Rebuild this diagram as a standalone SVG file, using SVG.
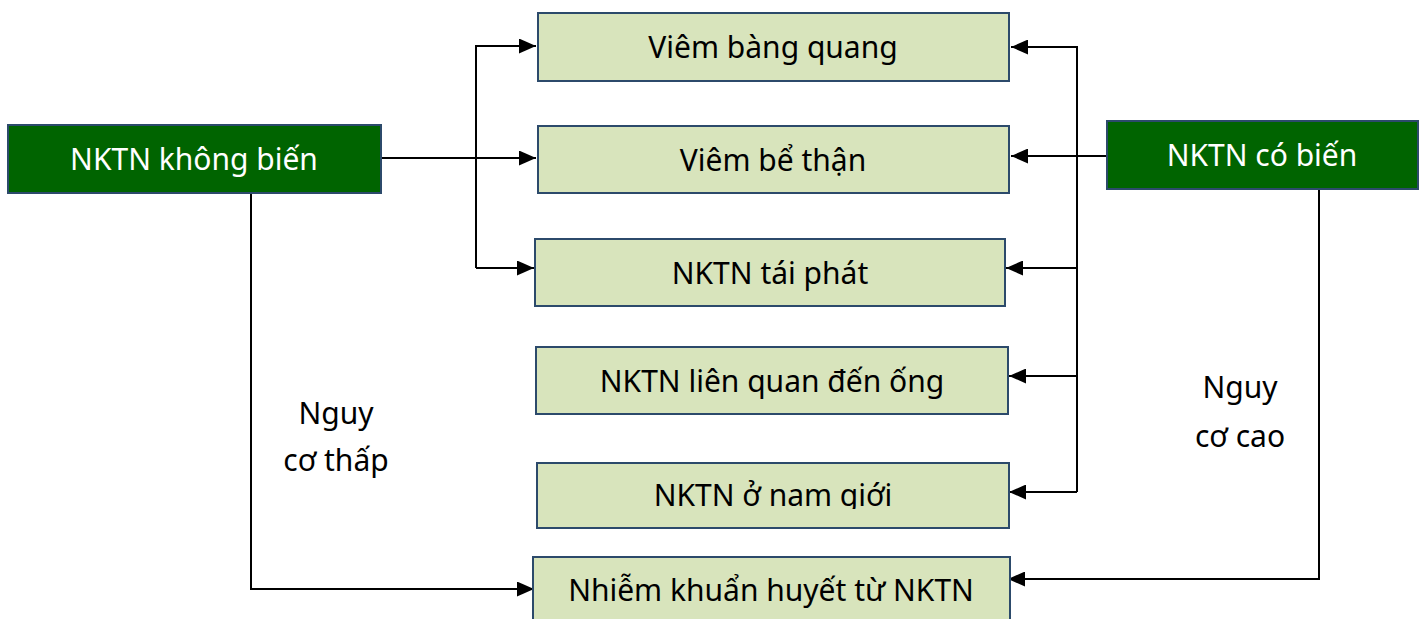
<svg xmlns="http://www.w3.org/2000/svg" width="1424" height="619" viewBox="0 0 1424 619">
<style>
.box{fill:#d8e4bc;stroke:#2c4a6b;stroke-width:2}
.dark{fill:#006400;stroke:#2c4a6b;stroke-width:2}
.t{font-family:"Noto Sans","Open Sans",sans-serif;font-size:30px;fill:#000;text-anchor:middle}
.tw{font-family:"Noto Sans","Open Sans",sans-serif;font-size:30px;fill:#fff;text-anchor:middle}
.c{fill:none;stroke:#000;stroke-width:2}
</style>
<defs>
<marker id="ah" markerUnits="userSpaceOnUse" markerWidth="17" markerHeight="15" refX="17" refY="7.5" orient="auto">
<path d="M0,0 L17,7.5 L0,15 z" fill="#000"/>
</marker>
<clipPath id="clipNam"><rect x="537" y="463" width="472" height="46"/></clipPath>
</defs>
<g id="connectors">
<path class="c" d="M381,158 L536,158" marker-end="url(#ah)"/>
<path class="c" d="M476,268 L476,46 L536,46" marker-end="url(#ah)"/>
<path class="c" d="M476,268 L534,268" marker-end="url(#ah)"/>
<path class="c" d="M1107,156 L1011,156" marker-end="url(#ah)"/>
<path class="c" d="M1077,492 L1077,47 L1011,47" marker-end="url(#ah)"/>
<path class="c" d="M1077,268 L1006,268" marker-end="url(#ah)"/>
<path class="c" d="M1077,376 L1009,376" marker-end="url(#ah)"/>
<path class="c" d="M1077,492 L1009,492" marker-end="url(#ah)"/>
<path class="c" d="M251,193 L251,589 L534,589" marker-end="url(#ah)"/>
<path class="c" d="M1319,189 L1319,579 L1008,579" marker-end="url(#ah)"/>
</g>
<g id="n-khong-bien"><rect class="dark" x="8" y="125" width="373" height="68"/><text class="tw" x="194" y="170">NKTN không biến</text></g>
<g id="n-co-bien"><rect class="dark" x="1107" y="121" width="311" height="68"/><text class="tw" x="1262" y="166">NKTN có biến</text></g>
<g id="n-bang-quang"><rect class="box" x="538" y="13" width="471" height="68"/><text class="t" x="773" y="58">Viêm bàng quang</text></g>
<g id="n-be-than"><rect class="box" x="538" y="126" width="471" height="67"/><text class="t" x="773" y="171">Viêm bể thận</text></g>
<g id="n-tai-phat"><rect class="box" x="535" y="239" width="470" height="67"/><text class="t" x="770" y="284">NKTN tái phát</text></g>
<g id="n-ong"><rect class="box" x="536" y="347" width="472" height="67"/><text class="t" x="772" y="392">NKTN liên quan đến ống</text></g>
<g id="n-nam-gioi"><rect class="box" x="537" y="463" width="472" height="65"/><text class="t" x="773" y="506" clip-path="url(#clipNam)">NKTN ở nam giới</text></g>
<g id="n-huyet"><rect class="box" x="533" y="557" width="477" height="70"/><text class="t" x="771" y="601">Nhiễm khuẩn huyết từ NKTN</text></g>
<g id="labels">
<text class="t" x="336" y="424">Nguy</text>
<text class="t" x="336" y="471">cơ thấp</text>
<text class="t" x="1240" y="398">Nguy</text>
<text class="t" x="1240" y="447">cơ cao</text>
</g>
</svg>
